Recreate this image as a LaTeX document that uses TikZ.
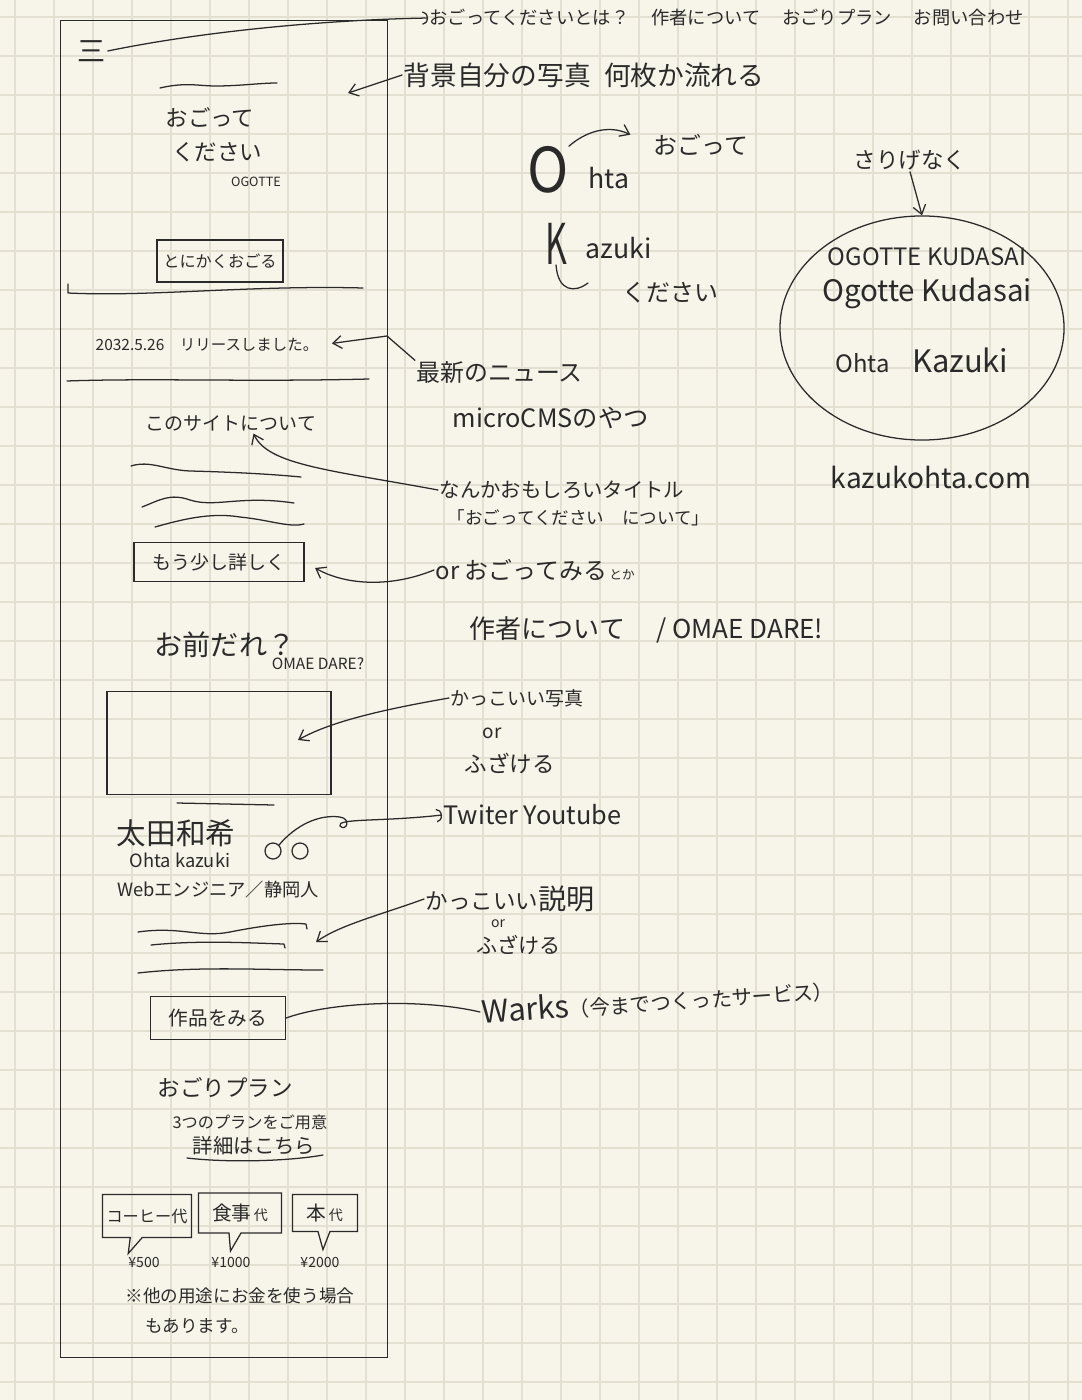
\documentclass[tikz,border=0pt]{standalone}
\usepackage{fontspec}
\setmainfont{Noto Sans CJK JP}
\usepackage{tikz}
\usepackage{xcolor}
\usetikzlibrary{positioning, arrows.meta, shapes.geometric, shapes.callouts}

\definecolor{paper}{HTML}{F7F4E9}
\definecolor{gridline}{HTML}{E4E0D1}
\definecolor{ink}{HTML}{2A2A2A}
\newcommand{\handsz}[1]{\fontsize{#1}{#1}\selectfont}

\begin{document}
\begin{tikzpicture}[
    x=0.025cm, y=-0.025cm,
    pen/.style={draw=ink, line width=0.9pt, line cap=round, line join=round},
    txt/.style={text=ink, inner sep=1pt},
    box/.style={draw=ink, line width=0.9pt, text=ink, inner sep=2pt},
    bubble/.style={rectangle callout, draw=ink, line width=0.9pt, text=ink, inner sep=2pt, callout pointer width=0.3cm},
    arr/.style={pen, -{Straight Barb[length=2.2mm, width=3.2mm]}},
    hook/.style={pen, -{Arc Barb[length=1.4mm, width=3.4mm]}}
  ]
  \useasboundingbox (0,0) rectangle (1082,1400);
  \fill[paper] (0,0) rectangle (1082,1400);
  \foreach \gx in {15,54,...,1068}
    \draw[gridline, line width=0.8pt] (\gx,0) -- (\gx,1400);
  \foreach \gy in {17,56,...,1382}
    \draw[gridline, line width=0.8pt] (0,\gy) -- (1082,\gy);

  \draw[ink, line width=0.7pt] (60,20) rectangle (387,1357);

  % phone mock-up
  \node[txt, font=\handsz{20}] (burger) at (92,51) {三};
  \node[txt, font=\handsz{13}, anchor=west] (nav) at (428,18) {おごってくださいとは？\hspace{1.2em}作者について\hspace{1.2em}おごりプラン\hspace{1.2em}お問い合わせ};
  \draw[hook] (burger.east) .. controls (200,32) and (320,20) .. (nav.west);

  \draw[pen] (160,88) .. controls (185,82) and (200,86) .. (215,86) .. controls (240,86) and (260,83) .. (277,83);
  \node[txt, font=\handsz{16}] (titleA) at (210,117) {おごって};
  \node[txt, font=\handsz{16}] (titleB) at (217,152) {ください};
  \node[txt, font=\handsz{9}] (titleC) at (256,182) {OGOTTE};
  \node[box, font=\handsz{11.5}, minimum width=3.15cm, minimum height=1.05cm] (goBtn) at (220,261) {とにかくおごる};
  \draw[pen] (68,284) -- (68,293) .. controls (150,297) and (250,285) .. (363,288);

  \node[txt, font=\handsz{19}, anchor=west] (bgnote) at (402,75) {背景自分の写真\hspace{0.5em}何枚か流れる};
  \coordinate (heroarea) at (348,93);
  \draw[arr] (bgnote.west) -- (heroarea);

  \node[txt, font=\handsz{11}] (release) at (207,345) {2032.5.26\quad リリースしました。};
  \draw[pen] (67,381) .. controls (150,378) and (250,382) .. (369,379);
  \node[txt, font=\handsz{17}, anchor=west] (news) at (415,373) {最新のニュース};
  \node[txt, font=\handsz{18}, anchor=west] (cms) at (451,418) {microCMSのやつ};
  \draw[arr, shorten >=3mm] (news.north west) -- (387,336) -- (release.east);

  \node[txt, font=\handsz{13.5}] (about) at (231,424) {このサイトについて};
  \draw[pen] (131,466) .. controls (150,460) and (165,470) .. (190,471) .. controls (230,472) and (270,474) .. (301,477);
  \draw[pen] (142,507) .. controls (160,500) and (170,493) .. (190,500) .. controls (215,508) and (240,495) .. (294,503);
  \draw[pen] (155,527) .. controls (180,520) and (210,512) .. (240,517) .. controls (270,520) and (290,528) .. (304,524);
  \node[box, font=\handsz{13.5}, minimum width=4.25cm, minimum height=0.975cm] (moreBtn) at (219,562) {もう少し詳しく};
  \node[txt, font=\handsz{14.5}, anchor=west] (funny) at (438,490) {なんかおもしろいタイトル};
  \node[txt, font=\handsz{12.5}, anchor=west] (funnyQ) at (446,518) {「おごってください\quad について」};
  \node[txt, anchor=west] (tryIt) at (434,570) {{\handsz{17}or おごってみる}\,{\handsz{9}とか}};
  \draw[arr] (funny.west) .. controls (330,470) and (268,465) .. (about.-23);
  \draw[arr, shorten >=3mm] (tryIt.west) .. controls (390,588) and (345,585) .. (moreBtn.east);

  \node[txt, font=\handsz{20}] (omae) at (225,645) {お前だれ？};
  \node[txt, font=\handsz{11}] (omaeR) at (318,664) {OMAE DARE?};
  \node[txt, font=\handsz{18.5}, anchor=west] (author) at (468,630) {作者について\hspace{1.2em}/ OMAE DARE!};
  \node[draw=ink, line width=0.9pt, minimum width=5.6cm, minimum height=2.575cm] (photo) at (219,743) {};
  \node[txt, font=\handsz{13.5}, anchor=west] (coolPhoto) at (449,698) {かっこいい写真};
  \node[txt, font=\handsz{13.5}] (orA) at (492,733) {or};
  \node[txt, font=\handsz{16}, anchor=west] (jokeA) at (463,763) {ふざける};
  \coordinate (photoTip) at (298,740);
  \draw[arr] (coolPhoto.west) .. controls (380,710) and (330,722) .. (photoTip);
  \draw[pen] (177,803) -- (274,805);

  \node[txt, font=\handsz{21}] (name) at (176,833) {太田和希};
  \node[txt, font=\handsz{13}] (nameR) at (180,860) {Ohta kazuki};
  \node[draw=ink, line width=0.9pt, circle, minimum size=0.4cm, inner sep=0pt] (snsA) at (273,851) {};
  \node[draw=ink, line width=0.9pt, circle, minimum size=0.4cm, inner sep=0pt] (snsB) at (300,851) {};
  \node[txt, font=\handsz{18}, anchor=west] (sns) at (442,815) {Twiter Youtube};
  \draw[hook] (snsA.north east) .. controls (295,826) and (318,814) .. (340,817) .. controls (352,819) and (346,832) .. (340,826) .. controls (336,818) and (380,822) .. (sns.west);
  \node[txt, font=\handsz{13}] (job) at (218,890) {Webエンジニア／静岡人};

  \node[txt, anchor=west] (coolDesc) at (424,899) {{\handsz{16}かっこいい}{\handsz{20}説明}};
  \node[txt, font=\handsz{10}] (orB) at (498,924) {or};
  \node[txt, font=\handsz{15}, anchor=west] (jokeB) at (475,945) {ふざける};
  \draw[pen] (138,932) .. controls (180,926) and (200,938) .. (230,932) .. controls (260,926) and (290,922) .. (306,924) -- (307,929);
  \draw[pen] (151,945) .. controls (200,940) and (250,943) .. (284,944) -- (285,948);
  \draw[pen] (138,973) .. controls (200,966) and (260,970) .. (323,970);
  \coordinate (descTip) at (316,942);
  \draw[arr] (coolDesc.west) .. controls (380,915) and (340,925) .. (descTip);

  \node[box, font=\handsz{14}, minimum width=3.375cm, minimum height=1.075cm] (worksBtn) at (218,1018) {作品をみる};
  \node[txt, anchor=west, rotate=4] (warks) at (480,1012) {{\handsz{22}Warks}{\handsz{14.5}（今までつくったサービス）}};
  \draw[pen] (worksBtn.east) .. controls (330,1002) and (420,998) .. (warks.west);

  \node[txt, font=\handsz{16}] (plan) at (225,1088) {おごりプラン};
  \node[txt, font=\handsz{11.5}] (planSub) at (250,1122) {3つのプランをご用意};
  \node[txt, font=\handsz{14.5}] (planMore) at (254,1146) {詳細はこちら};
  \draw[pen] (187,1158) .. controls (230,1163) and (290,1161) .. (323,1155);

  \node[bubble, font=\handsz{11.5}, minimum width=2.225cm, minimum height=1.075cm, callout relative pointer={(-8,16)}] (coffee) at (147,1216) {コーヒー代};
  \node[bubble, minimum width=2.075cm, minimum height=1cm, callout relative pointer={(-4.5,18)}] (meal) at (240,1213) {{\handsz{14}食事}\,{\handsz{10}代}};
  \node[bubble, minimum width=1.625cm, minimum height=0.925cm, callout relative pointer={(-1,18)}] (book) at (325,1213) {{\handsz{14}本}\,{\handsz{10}代}};
  \node[txt, font=\handsz{10}] (p500) at (144,1262) {¥500};
  \node[txt, font=\handsz{10}] (p1000) at (231,1262) {¥1000};
  \node[txt, font=\handsz{10}] (p2000) at (320,1262) {¥2000};
  \node[txt, font=\fontsize{12.5}{21}\selectfont, align=left, anchor=north west] (note) at (124,1286) {※他の用途にお金を使う場合\\\hspace{1.1em}もあります。};

  % logo ideas
  \node[txt, font=\handsz{44}, inner sep=0pt, xscale=0.9] (bigO) at (548,170) {O};
  \node[txt, font=\handsz{19}, anchor=west] (hta) at (587,178) {hta};
  \node[txt, font=\handsz{17}, anchor=west] (ogotteR) at (652,145) {おごって};
  \draw[arr, shorten >=0.6cm] (bigO.north east) .. controls (585,132) and (608,124) .. (ogotteR.west);
  \node[txt, font=\handsz{40}, inner sep=0pt, xscale=0.6] (bigK) at (556,244) {K};
  \node[txt, font=\handsz{19}, anchor=west] (azuki) at (584,248) {azuki};
  \node[txt, font=\handsz{17}, anchor=west] (kudasaiR) at (621,293) {ください};
  \coordinate (kArc) at (588,283);
  \draw[pen] (bigK.south) .. controls (558,292) and (575,293) .. (kArc);

  \node[txt, font=\handsz{16}] (subtle) at (910,160) {さりげなく};
  \node[draw=ink, line width=0.9pt, ellipse, minimum width=7.1cm, minimum height=5.6cm] (logo) at (922,328) {};
  \draw[arr] (subtle.south) -- (logo.north);
  \node[txt, font=\handsz{17}] (logoA) at (927,257) {OGOTTE KUDASAI};
  \node[txt, font=\handsz{21}] (logoB) at (927,293) {Ogotte Kudasai};
  \node[txt] (logoC) at (922,360) {{\handsz{17}Ohta}\hspace{1.6em}{\handsz{22}Kazuki}};
  \node[txt, font=\handsz{20}] (domain) at (931,477) {kazukohta.com};
\end{tikzpicture}
\end{document}
